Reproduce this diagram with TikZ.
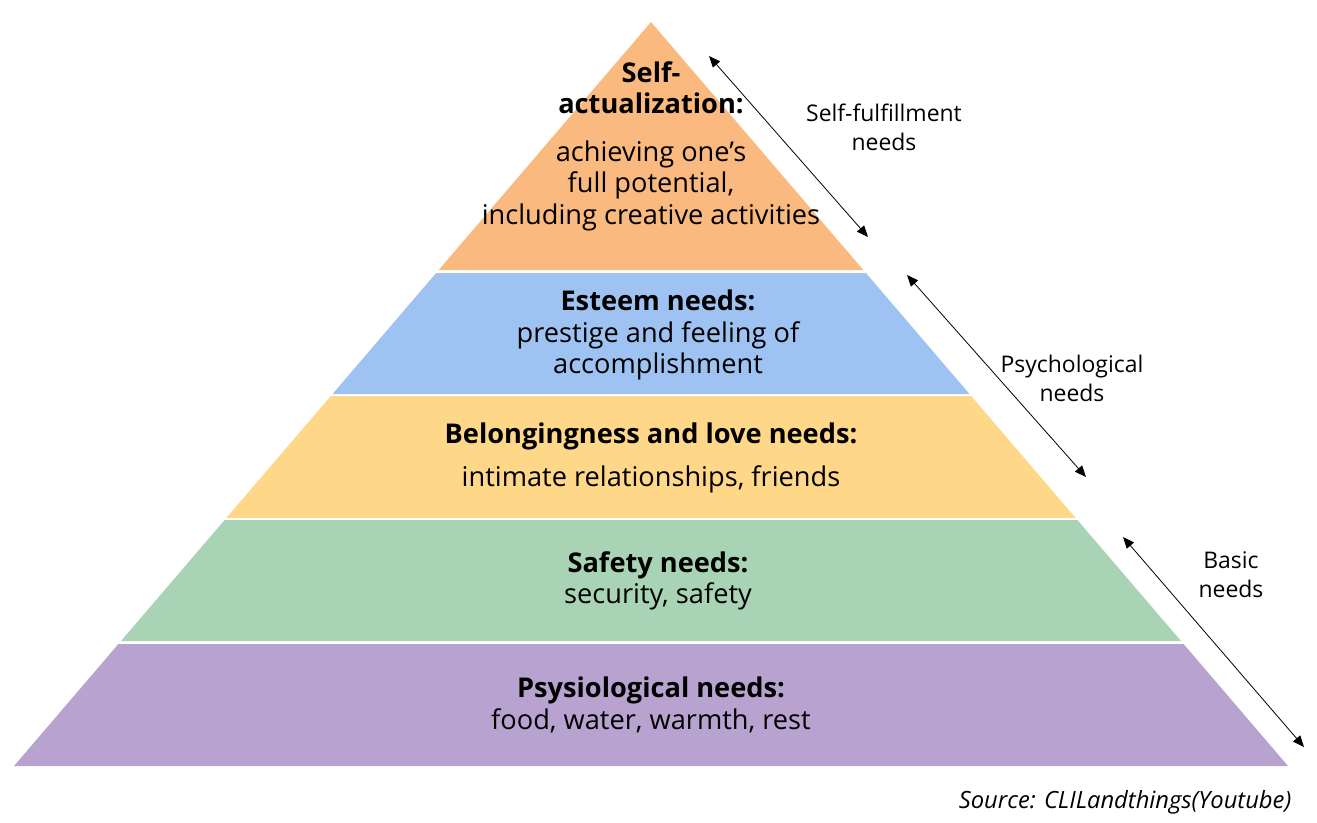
\documentclass[tikz,border=0pt]{standalone}
\usepackage{fontspec}
\setmainfont{Open Sans}
\usepackage{xcolor}
\usetikzlibrary{arrows.meta,calc}

\definecolor{selfcol}{RGB}{250,185,126}
\definecolor{esteemcol}{RGB}{158,195,242}
\definecolor{lovecol}{RGB}{255,215,136}
\definecolor{safecol}{RGB}{168,211,181}
\definecolor{physcol}{RGB}{184,162,207}

\begin{document}
\begin{tikzpicture}[x=0.75pt, y=-0.75pt,
  level/.style = {align=center, font=\fontsize{20.4}{23.6}\selectfont},
  side/.style = {align=center, font=\fontsize{17.2}{21.75}\selectfont},
  span/.style = {{Triangle[length=8.5pt,width=7pt]}-{Triangle[length=8.5pt,width=7pt]}, line width=0.6pt}]

    \useasboundingbox (0,0) rectangle (1317,822);

    % layers of the pyramid
    \fill[selfcol]   (651,22)    -- (863.3,270) -- (438.7,270) -- cycle;
    \fill[esteemcol] (436.1,273) -- (865.9,273) -- (969.5,394) -- (332.5,394) -- cycle;
    \fill[lovecol]   (330.8,396) -- (971.2,396) -- (1075.7,518) -- (226.3,518) -- cycle;
    \fill[safecol]   (224.6,520) -- (1077.4,520) -- (1181,641) -- (121,641) -- cycle;
    \fill[physcol]   (118.4,644) -- (1183.6,644) -- (1288,766) -- (14,766) -- cycle;

    \node[level] (self) at (651,146) {\textbf{Self-}\\\textbf{actualization:}\\[12pt]
        achieving one’s\\full potential,\\including creative activities};
    \node[level] (esteem) at (658,335) {\textbf{Esteem needs:}\\prestige and feeling of\\accomplishment};
    \node[level] (love) at (651,458) {\textbf{Belongingness and love needs:}\\[9pt]intimate relationships, friends};
    \node[level] (safe) at (658,581) {\textbf{Safety needs:}\\security, safety};
    \node[level] (phys) at (651,705) {\textbf{Psysiological needs:}\\food, water, warmth, rest};

    % brackets on the right
    \coordinate (a1) at (709,56);
    \coordinate (b1) at (868,237);
    \coordinate (a2) at (907,275);
    \coordinate (b2) at (1086,477);
    \coordinate (a3) at (1123,537);
    \coordinate (b3) at (1304,747);

    \draw[span] (a1) -- (b1);
    \draw[span] (a2) -- (b2);
    \draw[span] (a3) -- (b3);

    \node[side] (fulfil) at (884,127) {Self-fulfillment\\needs};
    \node[side] (psych) at (1072,378) {Psychological\\needs};
    \node[side] (basic) at (1231,575) {Basic\\needs};

    \node[anchor=east, font=\fontsize{17.8}{20}\selectfont\itshape] (src) at (1296,802) {Source: CLILandthings(Youtube)};

\end{tikzpicture}
\end{document}
